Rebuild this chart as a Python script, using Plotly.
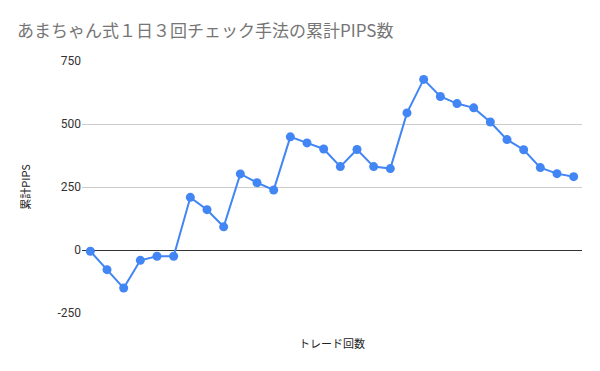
import plotly.graph_objects as go

trades = list(range(1, 31))
cumulative_pips = [-5, -78, -151, -41, -25, -25, 209, 160, 92, 302, 267, 238, 449, 425, 401,
                   331, 399, 331, 323, 544, 677, 609, 581, 564, 508, 438, 398, 327, 303, 291]
y_ticks = [-250, 0, 250, 500, 750]

font_family = "Noto Sans CJK JP, Roboto, Arial, sans-serif"

# The page body has an 8px default margin, so the figure is sized to fit inside it.
fig = go.Figure()
fig.add_trace(go.Scatter(
    x=[str(t) for t in trades], y=cumulative_pips,
    mode="lines+markers",
    line=dict(color="#4285F4", width=2),
    marker=dict(color="#4285F4", size=9),
    showlegend=False,
))

fig.update_layout(
    width=592, height=363,
    paper_bgcolor="white", plot_bgcolor="white",
    margin=dict(l=74, r=18, t=53, b=58),
    title=dict(text="あまちゃん式１日３回チェック手法の累計PIPS数",
               x=9/592, xanchor="left", y=1 - 23/363, yanchor="middle",
               font=dict(family=font_family, size=17, color="#757575")),
    font=dict(family=font_family, color="#222"),
    xaxis=dict(type="category", range=[-0.5, 29.5], showticklabels=False,
               showgrid=False, zeroline=False, showline=False, ticks="",
               title=dict(text="トレード回数", font=dict(size=11, color="#222"), standoff=27)),
    yaxis=dict(range=[-250, 750], tickvals=y_ticks, ticktext=[str(v) for v in y_ticks],
               showgrid=True, gridcolor="#cccccc", gridwidth=1,
               zeroline=True, zerolinecolor="#333333", zerolinewidth=1,
               tickfont=dict(family="Roboto, Arial, sans-serif", size=12, color="#333"),
               ticks="", ticklen=0,
               title=dict(text="累計PIPS", font=dict(size=11, color="#222"), standoff=24)),
)

fig.write_html("out.html")
